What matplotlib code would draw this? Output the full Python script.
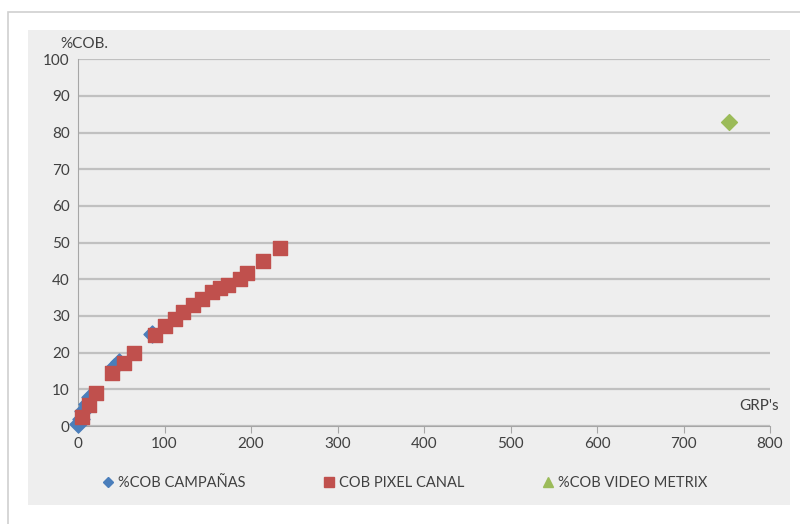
import matplotlib.pyplot as plt
from matplotlib.patches import Rectangle
from matplotlib.lines import Line2D

# data
campanas_grp = [0.5, 3, 6, 10, 14, 42, 47, 85]
campanas_cob = [0.5, 2, 4, 6, 8, 16, 17.5, 25]

pixel_grp = [4.3, 13, 20.4, 39.7, 53.2, 65, 89, 100.6, 112, 121, 132.6, 143,
             154.5, 164, 173.8, 187, 195.7, 213.5, 233.5]
pixel_cob = [2.5, 5.7, 8.9, 14.4, 17.3, 20, 24.8, 27.2, 29.3, 31.1, 33, 34.7,
             36.6, 37.5, 38.4, 40, 41.6, 45, 48.4]

metrix_grp = [752.6]
metrix_cob = [82.8]

labels = ['%COB CAMPAÑAS', 'COB PIXEL CANAL', '%COB VIDEO METRIX']
blue, red, green = '#4a7ebb', '#c0504d', '#9bbb59'
txt = '#404040'

plt.rcParams['font.family'] = ['Lato', 'DejaVu Sans']

fig = plt.figure(figsize=(8, 5.24), dpi=100)
fig.patch.set_facecolor('white')
# outer frame + grey panel
fig.patches.append(Rectangle((0.010, -0.01), 0.995, 0.988, transform=fig.transFigure,
                             facecolor='white', edgecolor='#d0d0d0', lw=1.2, zorder=-5))
fig.patches.append(Rectangle((0.035, 0.036), 0.9525, 0.906, transform=fig.transFigure,
                             facecolor='#eeeeee', edgecolor='none', zorder=-4))

ax = fig.add_axes([0.0975, 0.187, 0.865, 0.700])
ax.set_facecolor('none')

ax.scatter(campanas_grp, campanas_cob, marker='D', s=75, color=blue, zorder=3, clip_on=False)
ax.scatter(pixel_grp, pixel_cob, marker='s', s=115, color=red, zorder=4, clip_on=False)
ax.scatter(metrix_grp, metrix_cob, marker='D', s=65, color=green, zorder=4, clip_on=False)

ax.set_xlim(0, 800)
ax.set_ylim(0, 100)
ax.set_xticks(range(0, 801, 100))
ax.set_yticks(range(0, 101, 10))
ax.yaxis.grid(True, color='#c0c0c0', lw=1.6)
ax.set_axisbelow(True)
for s in ['top', 'right']:
    ax.spines[s].set_visible(False)
ax.spines['left'].set_color('#a6a6a6')
ax.spines['bottom'].set_color('#a6a6a6')
ax.tick_params(axis='y', length=0, labelsize=11, labelcolor=txt, pad=6)
ax.tick_params(axis='x', length=5, color='#a6a6a6', labelsize=11, labelcolor=txt, pad=3)

ax.text(-0.025, 1.03, '%COB.', transform=ax.transAxes, fontsize=11, color=txt)
ax.text(0.955, 0.045, "GRP's", transform=ax.transAxes, fontsize=11, color=txt)

handles = [Line2D([], [], ls='', marker='D', ms=5, color=blue),
           Line2D([], [], ls='', marker='s', ms=7, color=red),
           Line2D([], [], ls='', marker='^', ms=7, color=green)]
fig.legend(handles, labels, loc='center', bbox_to_anchor=(0.505, 0.078), ncol=3,
           frameon=False, fontsize=10.5, labelcolor=txt, columnspacing=5.2,
           handletextpad=0.2, handlelength=1)

fig.savefig('out.png', dpi=100)
